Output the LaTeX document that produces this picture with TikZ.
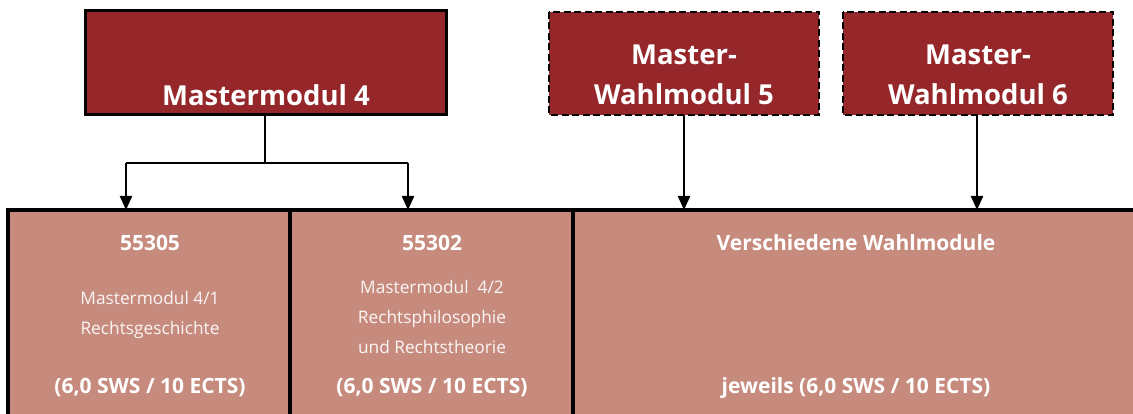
\documentclass[tikz,border=0pt]{standalone}
\usepackage{fontspec}
\setmainfont{Open Sans}
\usetikzlibrary{arrows.meta}
\definecolor{darkred}{HTML}{95272A}
\definecolor{lightred}{HTML}{C78B7E}
\begin{document}
\begin{tikzpicture}[x=1pt,y=-1pt,
  topbox/.style={fill=darkred,draw=black,line width=3pt},
  dashbox/.style={topbox,dash pattern=on 7pt off 3.5pt,line width=2.8pt},
  botbox/.style={fill=lightred,draw=black,line width=3.2pt},
  headtxt/.style={text=white,font=\bfseries\fontsize{27.5}{40}\selectfont,align=center},
  boldtxt/.style={text=white,font=\bfseries\fontsize{21}{24}\selectfont,align=center},
  lighttxt/.style={text=white!92!lightred,font=\fontsize{17.3}{30}\selectfont,align=center},
  conn/.style={line width=2.2pt,-{Triangle[length=14pt,width=12pt]}},
  seg/.style={line width=2.2pt}]
\useasboundingbox (0,0) rectangle (1133,414);
\begin{scope}
\clip (0,0) rectangle (1133,414);
% top boxes
\draw[topbox] (85,11) rectangle (446,115);
\coordinate (m4b) at (265,115);
\node[headtxt] (m4) at (266,95) {Mastermodul 4};
\draw[dashbox] (549,12) rectangle (819,115);
\node[headtxt] (w5) at (684,75) {Master-\\Wahlmodul 5};
\draw[dashbox] (843,12) rectangle (1113,115);
\node[headtxt] (w6) at (978,75) {Master-\\Wahlmodul 6};
% bottom boxes
\draw[botbox] (8,210) rectangle (290,430);
\draw[botbox] (290,210) rectangle (573,430);
\draw[botbox] (573,210) rectangle (1145,430);
\coordinate (b1) at (126,210);
\coordinate (b2) at (408,210);
\coordinate (b3) at (684,210);
\coordinate (b4) at (977,210);
\coordinate (w5b) at (684,115);
\coordinate (w6b) at (977,115);
\coordinate (j) at (265,163);
\coordinate (jl) at (126,163);
\coordinate (jr) at (408,163);
\draw[seg] (m4b) -- (j);
\draw[seg] (jl) -- (jr);
\draw[conn] (jl) -- (b1);
\draw[conn] (jr) -- (b2);
\draw[conn] (w5b) -- (b3);
\draw[conn] (w6b) -- (b4);
% texts
\node[boldtxt] (n1) at (150,243) {55305};
\node[lighttxt] (t1) at (150,315) {Mastermodul 4/1\\Rechtsgeschichte};
\node[boldtxt] (e1) at (150,388) {(6,0 SWS / 10 ECTS)};
\node[boldtxt] (n2) at (432,243) {55302};
\node[lighttxt] (t2) at (432,317) {Mastermodul\ \ 4/2\\Rechtsphilosophie\\und Rechtstheorie};
\node[boldtxt] (e2) at (432,388) {(6,0 SWS / 10 ECTS)};
\node[boldtxt] (n3) at (856,243) {Verschiedene Wahlmodule};
\node[boldtxt] (e3) at (856,388) {jeweils (6,0 SWS / 10 ECTS)};
\end{scope}
\end{tikzpicture}
\end{document}
